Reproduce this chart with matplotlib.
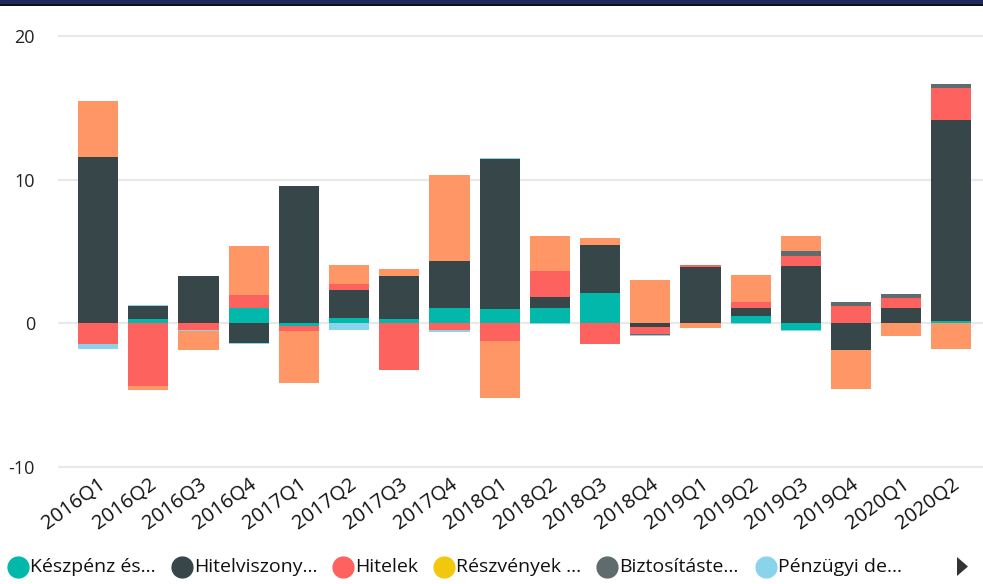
import numpy as np
import matplotlib.pyplot as plt
from matplotlib.patches import Rectangle, Polygon

plt.rcParams['axes.unicode_minus'] = False

# negyedévek
quarters = ['2016Q1', '2016Q2', '2016Q3', '2016Q4', '2017Q1', '2017Q2', '2017Q3', '2017Q4',
            '2018Q1', '2018Q2', '2018Q3', '2018Q4', '2019Q1', '2019Q2', '2019Q3', '2019Q4',
            '2020Q1', '2020Q2']

keszpenz = [0, 0.30, 0, 1.07, -0.20, 0.37, 0.30, 1.07, 0.98, 1.07, 2.11, 0, 0, 0.51, -0.49, 0, 0, 0.16]
hitelviszony = [11.6, 0.90, 3.30, -1.40, 9.58, 1.95, 3.00, 3.28, 10.49, 0.77, 3.35, -0.28, 3.93, 0.56, 3.99, -1.84, 1.07, 14.02]
hitelek = [-1.44, -4.38, -0.45, 0.90, -0.35, 0.42, -3.28, -0.49, -1.26, 1.81, -1.44, -0.49, 0.14, 0.42, 0.70, 1.21, 0.70, 2.17]
reszvenyek = [0] * 18
biztositas = [0, 0, 0, 0, 0, 0, 0, 0, 0, 0, 0, -0.07, 0, 0, 0.35, 0.28, 0.28, 0.28]
derivativak = [-0.35, 0.05, -0.07, -0.07, 0, -0.49, 0, -0.14, 0.07, -0.07, 0, -0.07, 0, -0.07, -0.07, 0, 0, 0]
egyeb = [3.90, -0.27, -1.33, 3.42, -3.63, 1.33, 0.49, 6.00, -3.97, 2.44, 0.49, 3.02, -0.35, 1.88, 1.05, -2.72, -0.91, -1.77]

series = [keszpenz, hitelviszony, hitelek, reszvenyek, biztositas, derivativak, egyeb]
colors = ['#01B8AA', '#374649', '#FD625E', '#F2C80F', '#5F6B6D', '#8AD4EB', '#FE9666']
legend_labels = ['Készpénz és...', 'Hitelviszony...', 'Hitelek', 'Részvények ...',
                 'Biztosításte...', 'Pénzügyi de...']

W, H = 983, 584
fig = plt.figure(figsize=(W / 100, H / 100), dpi=100)

# tengely elhelyezése pixelben
ymin, ymax = -10.3, 20.3
px_unit = (467 - 36) / 30
top_px = 36 - (ymax - 20) * px_unit
bot_px = 467 + (-10 - ymin) * px_unit
ax = fig.add_axes([58 / W, 1 - bot_px / H, (W - 58) / W, (bot_px - top_px) / H])

x = np.arange(len(quarters))
pos = np.zeros(len(quarters))
neg = np.zeros(len(quarters))
for vals, c in zip(series, colors):
    v = np.array(vals, dtype=float)
    b = np.where(v >= 0, pos, neg)
    ax.bar(x, v, 0.8, bottom=b, color=c, linewidth=0, zorder=3)
    pos += np.where(v >= 0, v, 0)
    neg += np.where(v < 0, v, 0)

ax.set_xlim(-0.8, 17.63)
ax.set_ylim(ymin, ymax)
ax.set_yticks([-10, 0, 10, 20])
ax.grid(axis='y', color='#E9E9E9', linewidth=1.6, zorder=0)
for s in ax.spines.values():
    s.set_visible(False)
ax.tick_params(axis='both', length=0)
ax.tick_params(axis='y', pad=16.5, labelsize=13, labelcolor='#222222')
for t in ax.get_yticklabels():
    t.set_fontfamily('Open Sans')
ax.set_xticks(x)
ax.set_xticklabels(quarters, rotation=36, ha='right', va='top', rotation_mode='anchor',
                   fontsize=14.5, family='Open Sans', color='#111111')
ax.tick_params(axis='x', pad=2)

# felső sáv
band = fig.add_axes([0, 0, 1, 1], zorder=-1)
band.set_xlim(0, W)
band.set_ylim(H, 0)
band.axis('off')
band.add_patch(Rectangle((0, 0), W, 3.5, color='#1F2B5C', lw=0))
band.add_patch(Rectangle((0, 3.5), W, 2.5, color='#111111', lw=0))

# jelmagyarázat
leg_x = [18, 182, 343, 444, 607, 766]
for lx, lab, c in zip(leg_x, legend_labels, colors):
    band.plot(lx, 567, 'o', markersize=15, color=c, clip_on=False)
    band.text(lx + 12, 567, lab, fontsize=14, family='Open Sans', color='#111111',
              va='center', ha='left')
band.add_patch(Polygon([[957, 557], [957, 576], [968, 566.5]], color='#333333', lw=0))

fig.savefig('out.png', dpi=100)
